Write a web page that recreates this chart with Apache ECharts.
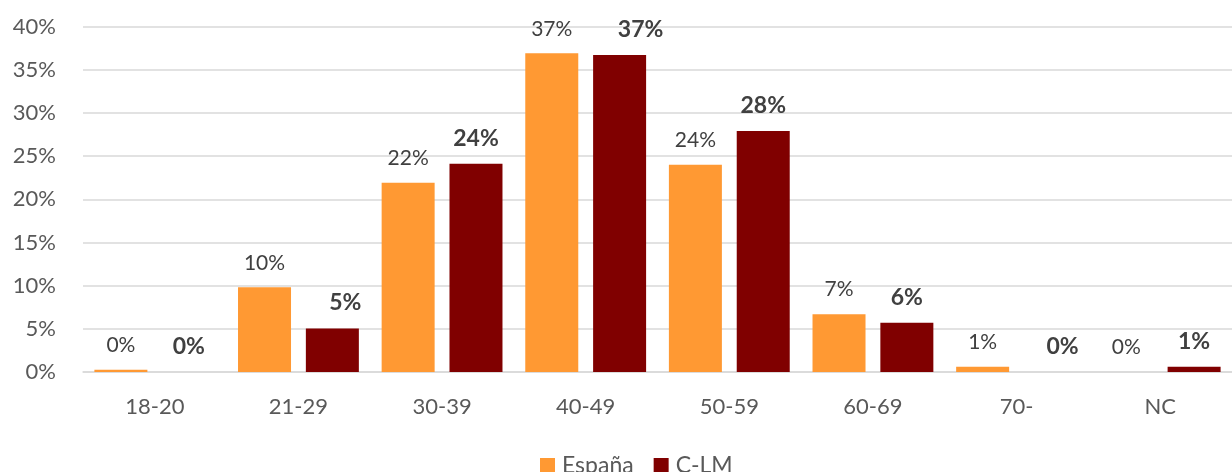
<!DOCTYPE html>
<html>
<head>
<meta charset="utf-8">
<script src="https://cdn.jsdelivr.net/npm/echarts@6/dist/echarts.min.js"></script>
<style>html,body{margin:0;padding:0;background:#fff;}#c{width:1232px;height:472px;}</style>
</head>
<body>
<div id="c"></div>
<script>
var categories = ['18-20','21-29','30-39','40-49','50-59','60-69','70-','NC'];
var espana = [0.25, 9.8, 21.9, 36.9, 24.0, 6.7, 0.6, 0];
var clm = [0, 5.05, 24.1, 36.7, 27.9, 5.7, 0, 0.6];
var seriesNames = ['España', 'C-LM'];
var FONT = 'Lato';
// manual label nudges seen in the original (C-LM labels), px
var clmLabelShift = { '21-29': 13, '40-49': 21, '70-': 12 };
var chart = echarts.init(document.getElementById('c'));
function pct(p){ return Math.round(p.value) + '%'; }
var clmData = clm.map(function(v, i){
  var s = clmLabelShift[categories[i]] || 0;
  return s ? { value: v, label: { offset: [s, 0] } } : v;
});
chart.setOption({
  animation: false,
  textStyle: { fontFamily: FONT },
  grid: { left: 83, width: 1160, top: 26.5, height: 345.5, containLabel: false },
  legend: {
    data: seriesNames, top: 449, left: 535,
    itemWidth: 15, itemHeight: 15, itemGap: 20,
    icon: 'rect',
    textStyle: { fontFamily: FONT, fontSize: 23, color: '#595959', padding: [0,0,0,2] }
  },
  xAxis: {
    type: 'category', data: categories,
    axisTick: { show: false },
    axisLine: { lineStyle: { color: '#D9D9D9', width: 1.5 } },
    axisLabel: { color: '#595959', fontSize: 22, fontFamily: FONT, margin: 24 }
  },
  yAxis: {
    type: 'value', min: 0, max: 40, interval: 5,
    axisLabel: { formatter: '{value}%', color: '#595959', fontSize: 22, fontFamily: FONT, margin: 27 },
    splitLine: { lineStyle: { color: '#D9D9D9', width: 1.5 } },
    axisLine: { show: false }, axisTick: { show: false }
  },
  series: [
    {
      name: seriesNames[0], type: 'bar', data: espana,
      barWidth: 53, barGap: '28%',
      itemStyle: { color: '#FF9933' },
      label: { show: true, position: 'top', distance: 14, formatter: pct,
        color: '#404040', fontSize: 21, fontFamily: FONT }
    },
    {
      name: seriesNames[1], type: 'bar', data: clmData,
      barWidth: 53,
      itemStyle: { color: '#800000' },
      label: { show: true, position: 'top', distance: 14, formatter: pct,
        color: '#404040', fontSize: 23, fontWeight: 'bold', fontFamily: FONT }
    }
  ]
});
</script>
</body>
</html>
